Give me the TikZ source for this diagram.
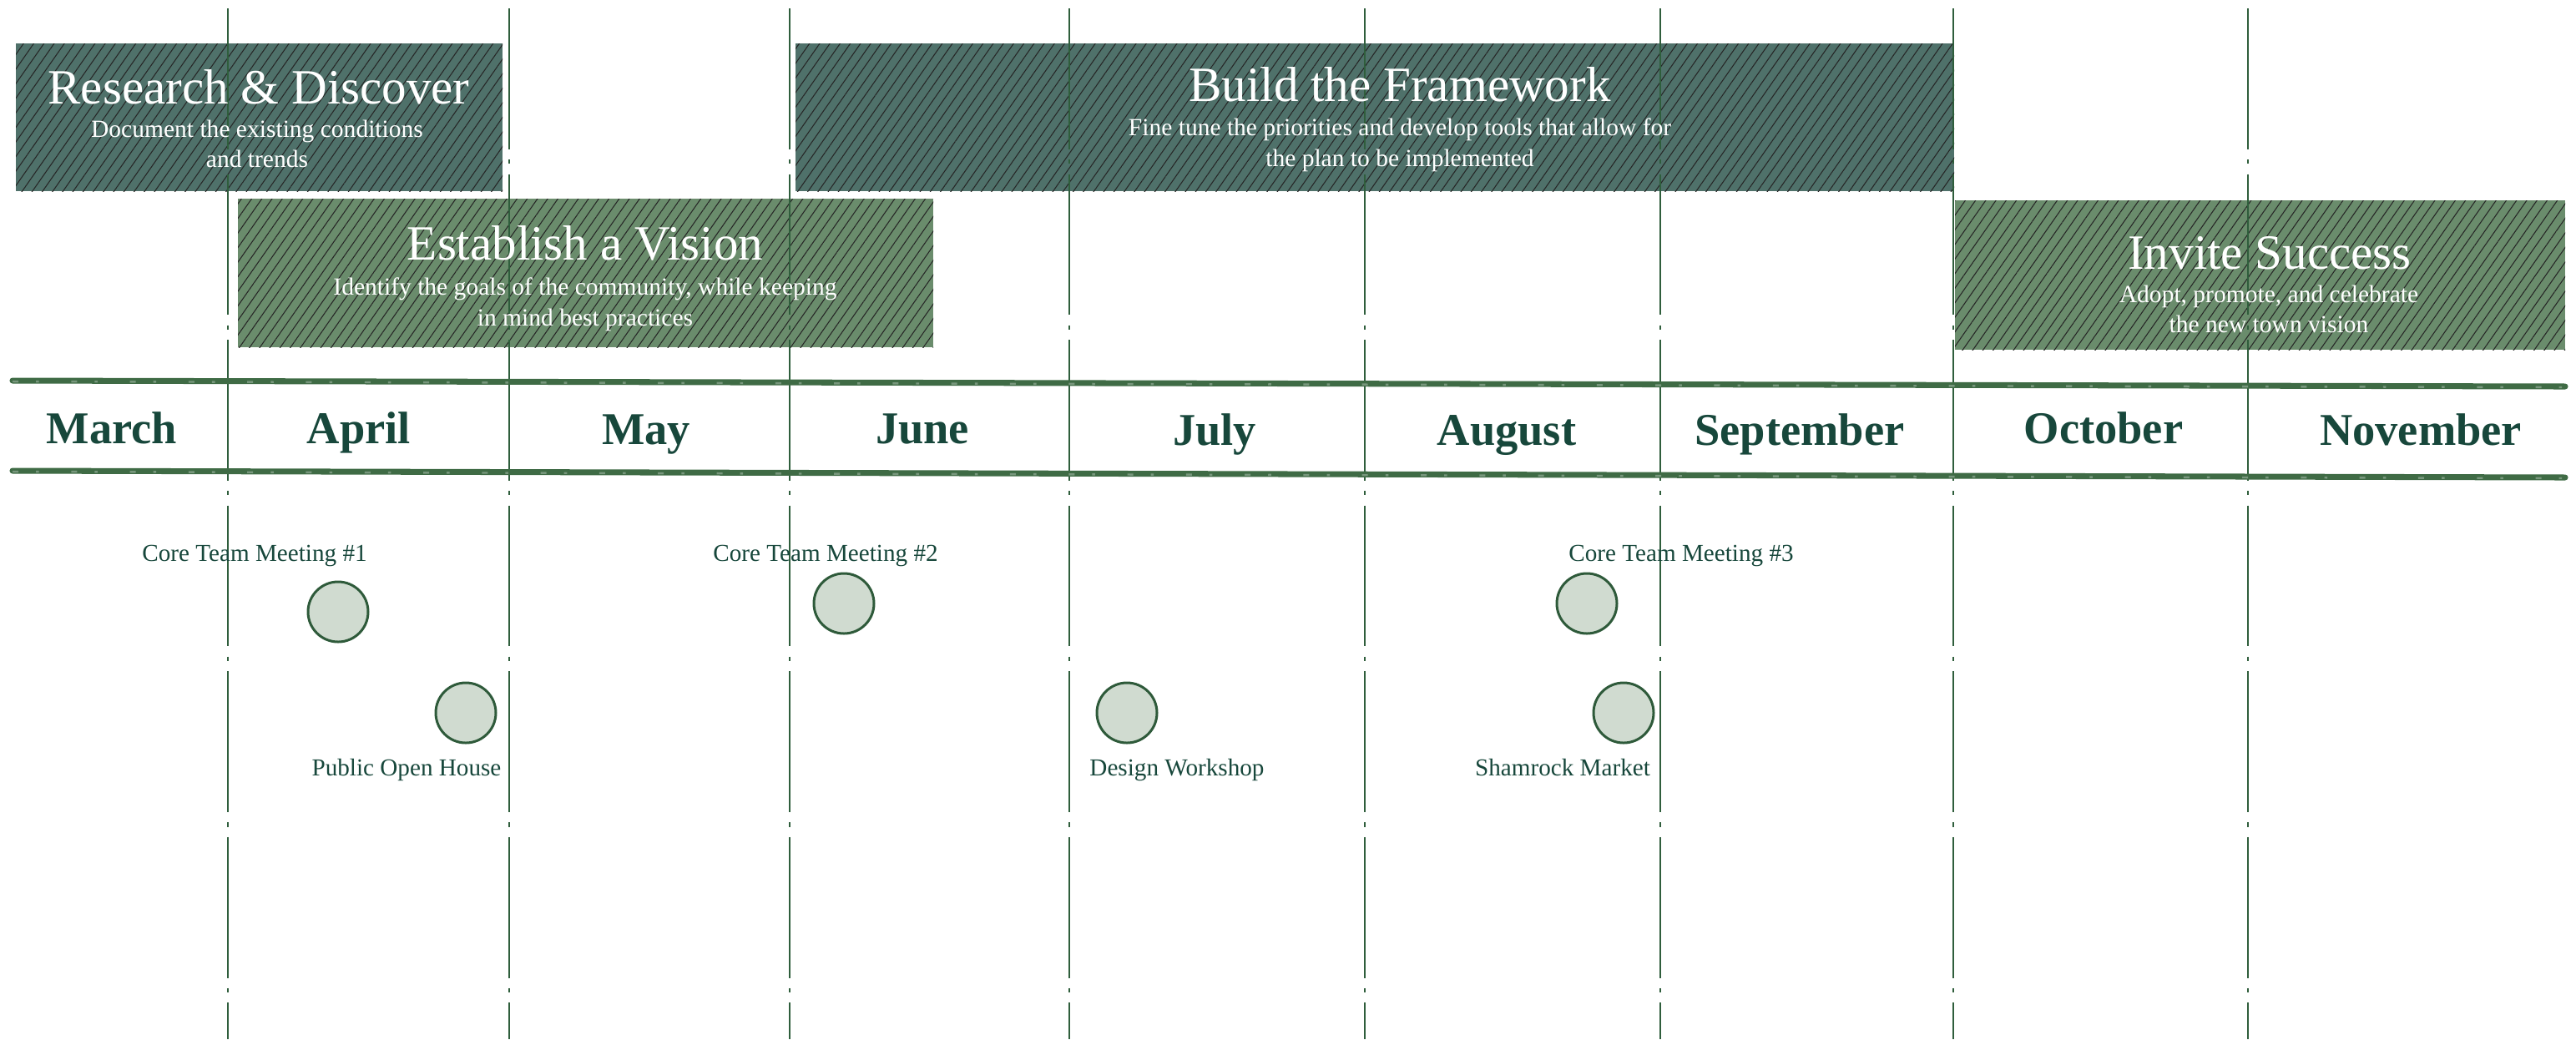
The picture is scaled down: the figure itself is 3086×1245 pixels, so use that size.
\documentclass[tikz,border=0pt]{standalone}
\usepackage{fontspec}
\setmainfont{Liberation Serif}
\usetikzlibrary{patterns.meta,positioning}
\definecolor{deepbox}{HTML}{4F716A}
\definecolor{sagebox}{HTML}{6A8C6C}
\definecolor{ink}{HTML}{17473B}
\definecolor{rulegreen}{HTML}{3F6B45}
\definecolor{gridgreen}{HTML}{2F5E3C}
\definecolor{dotfill}{HTML}{D0DBD0}
\definecolor{dotline}{HTML}{2E5A3A}

\begin{document}
\begin{tikzpicture}[x=0.1mm,y=-0.1mm,
    phase/.style = {anchor=north west, inner sep=0pt, outer sep=0pt, preaction={fill=#1},
                    pattern={Lines[angle=55,distance=2.85pt,line width=0.3pt]}, pattern color=black!85},
    phasetitle/.style = {anchor=base, inner sep=0pt, text=white, font=\fontsize{16.8}{20}\selectfont},
    phasenote/.style = {anchor=north, inner sep=0pt, text=white, align=center, font=\fontsize{8.4}{10.4}\selectfont},
    month/.style = {anchor=base, text=ink, font=\fontsize{15.5}{18}\selectfont\bfseries},
    event/.style = {circle, minimum size=7.2mm, inner sep=0pt, fill=dotfill, draw=dotline, line width=0.85pt},
    eventlabel/.style = {anchor=base, text=ink, font=\fontsize{8.3}{10}\selectfont},
    monthline/.style = {color=gridgreen, line width=0.55pt, dash pattern=on 48pt off 3.5pt on 1.5pt off 3.5pt},
    rule/.style = {color=rulegreen, line width=2pt, line cap=round},
    chalk/.style = {color=white, opacity=0.3, line width=0.7pt, dash pattern=on 2pt off 6pt on 1pt off 11pt}]
    \useasboundingbox (0,0) rectangle (3086,1245);

    % phases
    \node[phase=deepbox, minimum width=58.3mm, minimum height=17.7mm] (research) at (19,52) {};
    \node[phase=sagebox, minimum width=83.3mm, minimum height=17.8mm] (vision) at (285,238) {};
    \node[phase=deepbox, minimum width=138.8mm, minimum height=17.7mm] (framework) at (953,52) {};
    \node[phase=sagebox, minimum width=73.1mm, minimum height=17.9mm] (success) at (2342,240) {};

    % month dividers
    \foreach \x in {273,610,946,1281,1635,1989,2340,2693}
        \draw[monthline] (\x,10) -- (\x,1245);

    \node[phasetitle] (researcht) at (310,124) {Research \& Discover};
    \node[phasenote] (researchn) at (308,143) {Document the existing conditions\\and trends};
    \node[phasetitle] (visiont) at (701,311) {Establish a Vision};
    \node[phasenote] (visionn) at (701,332) {Identify the goals of the community, while keeping\\in mind best practices};
    \node[phasetitle] (frameworkt) at (1677,121) {Build the Framework};
    \node[phasenote] (frameworkn) at (1677,141) {Fine tune the priorities and develop tools that allow for\\the plan to be implemented};
    \node[phasetitle] (successt) at (2719,322) {Invite Success};
    \node[phasenote] (successn) at (2718,341) {Adopt, promote, and celebrate\\the new town vision};

    % month band
    \draw[rule] (15,456) -- (3073,463);
    \draw[chalk] (15,457) -- (3073,464);
    \draw[rule] (15,564) -- (3073,572);
    \draw[chalk] (15,565) -- (3073,573);

    \node[month] (mar) at (134,531) {March};
    \node[month] (apr) at (430,531) {April};
    \node[month] (may) at (774,532) {May};
    \node[month] (jun) at (1105,531) {June};
    \node[month] (jul) at (1455,533) {July};
    \node[month] (aug) at (1805,533) {August};
    \node[month] (sep) at (2156,533) {September};
    \node[month] (oct) at (2520,531) {October};
    \node[month] (nov) at (2900,533) {November};

    % events
    \node[event] (ctm1) at (405,733) {};
    \node[event] (poh) at (558,854) {};
    \node[event] (ctm2) at (1011,723) {};
    \node[event] (dws) at (1350,854) {};
    \node[event] (ctm3) at (1901,723) {};
    \node[event] (sham) at (1945,854) {};

    \node[eventlabel] (ctm1l) at (305,672) {Core Team Meeting \#1};
    \node[eventlabel] (pohl) at (487,929) {Public Open House};
    \node[eventlabel] (ctm2l) at (989,672) {Core Team Meeting \#2};
    \node[eventlabel] (dwsl) at (1410,929) {Design Workshop};
    \node[eventlabel] (ctm3l) at (2014,672) {Core Team Meeting \#3};
    \node[eventlabel] (shaml) at (1872,929) {Shamrock Market};
\end{tikzpicture}
\end{document}
